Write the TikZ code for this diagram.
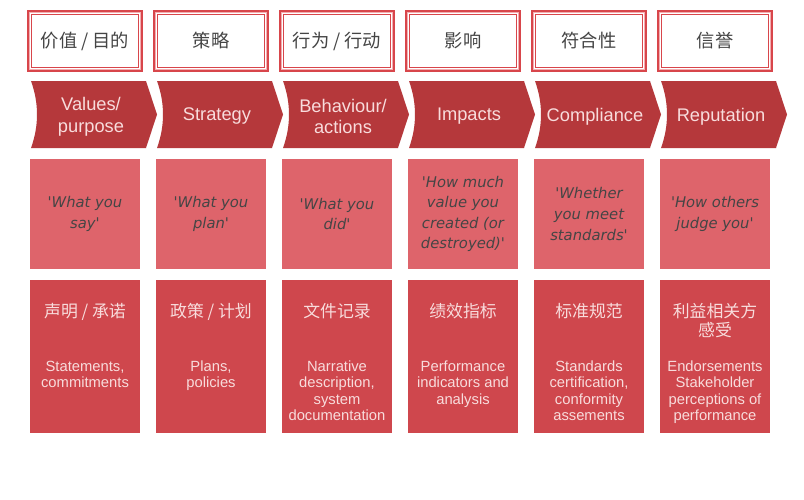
\documentclass[tikz,border=0pt]{standalone}
\usepackage{fontspec}
\usepackage{tikz}
\setmainfont{Liberation Sans}
\newfontfamily\cjk{Noto Sans CJK SC}
\newfontfamily\quotefont{DejaVu Sans}
\definecolor{chevred}{HTML}{B5383B}
\definecolor{quotepink}{HTML}{DE646B}
\definecolor{evidred}{HTML}{CF474D}
\definecolor{framered}{HTML}{D8464B}
\definecolor{framepink}{HTML}{F2AEB1}
\definecolor{inkgray}{HTML}{454545}
\definecolor{paletext}{HTML}{F8DCDC}

\begin{document}
\begin{tikzpicture}
			[x=0.025cm,y=-0.025cm,
			zhlabel/.style={font=\cjk\fontsize{13}{15}\selectfont,text=inkgray},
			stagelabel/.style={font=\fontsize{13}{15.5}\selectfont,text=paletext,align=center},
			quotelabel/.style={font=\quotefont\itshape\fontsize{10.5}{14.6}\selectfont,text=inkgray,align=center},
			evidzh/.style={font=\cjk\fontsize{12}{13.2}\selectfont,text=paletext,align=center,anchor=north,inner sep=0pt},
			evidlabel/.style={font=\fontsize{10.5}{11.7}\selectfont,text=paletext,align=center,anchor=north,inner sep=0pt}]
			\useasboundingbox[fill=white] (0,0) rectangle (804,500);
			\foreach \i/\zh/\en/\q/\cz/\ev [evaluate=\i as \x using 85+126*\i] in {
				0/{价值 / 目的}/{Values/\\purpose}/{'What you\\say'}/{声明 / 承诺}/{Statements,\\commitments},
				1/{策略}/{Strategy}/{'What you\\plan'}/{政策 / 计划}/{Plans,\\policies},
				2/{行为 / 行动}/{Behaviour/\\actions}/{'What you\\did'}/{文件记录}/{Narrative\\description,\\system\\documentation},
				3/{影响}/{Impacts}/{'How much\\value you\\created (or\\destroyed)'}/{绩效指标}/{Performance\\indicators and\\analysis},
				4/{符合性}/{Compliance}/{'Whether\\you meet\\standards'}/{标准规范}/{Standards\\certification,\\conformity\\assements},
				5/{信誉}/{Reputation}/{'How others\\judge you'}/{利益相关方\\感受}/{Endorsements\\Stakeholder\\perceptions of\\performance}}
			{
				\draw[framered,line width=0.8pt,fill=framepink] (\x-57,11) rectangle (\x+57,71);
				\fill[white] (\x-54.8,13.2) rectangle (\x+54.8,68.8);
				\draw[framered,line width=1pt] (\x-53.4,14.6) rectangle (\x+53.4,67.4);
				\node[zhlabel] (zh\i) at (\x,41) {\zh};
				\fill[chevred] (\x-54,81) -- (\x+61,81) -- (\x+72,114.5) -- (\x+61,148) -- (\x-54,148)
					.. controls (\x-46,126) and (\x-46,103) .. cycle;
				\node[stagelabel] (stage\i) at (\x+6,116.5) {\en};
				\fill[quotepink] (\x-55,159) rectangle (\x+55,269);
				\node[quotelabel] (quote\i) at (\x,214) {\q};
				\fill[evidred] (\x-55,280) rectangle (\x+55,433);
				\node[evidzh] (evidzh\i) at (\x,303) {\cz};
				\node[evidlabel] (evid\i) at (\x,360.5) {\ev};
			}
		\end{tikzpicture}
\end{document}
